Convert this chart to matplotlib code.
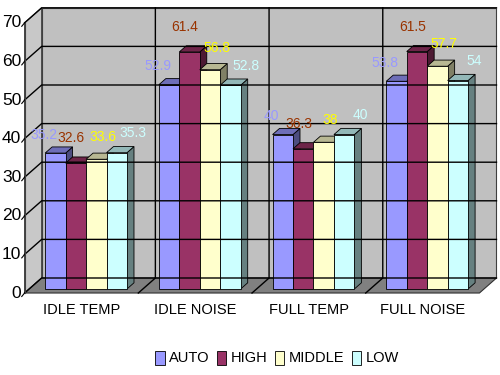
import matplotlib.pyplot as plt
from matplotlib.patches import Polygon, Patch
import numpy as np

plt.rcParams['font.family'] = ['Liberation Sans', 'DejaVu Sans']

# chart data
categories = ['IDLE TEMP', 'IDLE NOISE', 'FULL TEMP', 'FULL NOISE']
series = ['AUTO', 'HIGH', 'MIDDLE', 'LOW']
auto = [35.2, 52.9, 40, 53.8]
high = [32.6, 61.4, 36.3, 61.5]
middle = [33.6, 56.8, 38, 57.7]
low = [35.3, 52.8, 40, 54]
values = [auto, high, middle, low]
yticks = [0, 10, 20, 30, 40, 50, 60, 70]

colors = ['#9999ff', '#993366', '#ffffcc', '#ccffff']
label_colors = ['#9999ff', '#993300', '#ffff00', '#ccffff']
# label nudges per series (x in category units, y in value units)
lab_dx = [-0.10, -0.04, 0.06, 0.14]
lab_dy = [4.8, 6.5, 5.7, 5.0]

# fake 3D projection: depth d in [0, 1] moves up and right
FX, FY = -0.04, -1.04
DX, DY = 0.15, 3.89
BAR_D0, BAR_D1 = 0.27, 0.68
W = 0.18


def P(x, v, d):
    return (x + FX + d * DX, v + FY + d * DY)


def shade(c, f):
    rgb = np.array(plt.matplotlib.colors.to_rgb(c))
    return tuple(rgb * f)


fig = plt.figure(figsize=(5, 3.75), dpi=100)
ax = fig.add_axes([0, 0, 1, 1])
ax.set_xlim(-0.7564, 3.641)
ax.set_ylim(-22.28, 74.87)
ax.axis('off')

x0, x1 = -0.5, 3.5
vmax = yticks[-1]

# walls and floor
back = [P(x0, 0, 1), P(x1, 0, 1), P(x1, vmax, 1), P(x0, vmax, 1)]
left = [P(x0, 0, 0), P(x0, 0, 1), P(x0, vmax, 1), P(x0, vmax, 0)]
floor = [P(x0, 0, 0), P(x1, 0, 0), P(x1, 0, 1), P(x0, 0, 1)]
ax.add_patch(Polygon(back, closed=True, fc='#c0c0c0', ec='#404040', lw=0.8))
ax.add_patch(Polygon(left, closed=True, fc='#c8c8c8', ec='#404040', lw=0.8))
ax.add_patch(Polygon(floor, closed=True, fc='#808080', ec='#303030', lw=0.8))

for t in yticks:
    a, b, c = P(x0, t, 0), P(x0, t, 1), P(x1, t, 1)
    ax.plot([a[0], b[0], c[0]], [a[1], b[1], c[1]], color='black', lw=1)
    ax.plot([a[0] - 0.025, a[0]], [a[1] - 0.9, a[1]], color='black', lw=0.8)
    ax.text(a[0] - 0.03, a[1], str(t), ha='right', va='center', fontsize=12.5, color='black')

for xb in [0.5, 1.5, 2.5]:
    a, b, c = P(xb, 0, 0), P(xb, 0, 1), P(xb, vmax, 1)
    ax.plot([a[0], b[0], c[0]], [a[1], b[1], c[1]], color='black', lw=1)

# front axis line
a, b = P(x0, 0, 0), P(x0, vmax, 0)
ax.plot([a[0], b[0]], [a[1], b[1]], color='#404040', lw=0.8)

# bars
for g in range(len(categories)):
    for s in range(len(series)):
        v = values[s][g]
        xl = g - 2 * W + s * W
        xr = xl + W
        c = colors[s]
        side = [P(xr, 0, BAR_D0), P(xr, 0, BAR_D1), P(xr, v, BAR_D1), P(xr, v, BAR_D0)]
        top = [P(xl, v, BAR_D0), P(xr, v, BAR_D0), P(xr, v, BAR_D1), P(xl, v, BAR_D1)]
        front = [P(xl, 0, BAR_D0), P(xr, 0, BAR_D0), P(xr, v, BAR_D0), P(xl, v, BAR_D0)]
        ax.add_patch(Polygon(side, closed=True, fc=shade(c, 0.5), ec='black', lw=0.6))
        ax.add_patch(Polygon(top, closed=True, fc=shade(c, 0.72), ec='black', lw=0.6))
        ax.add_patch(Polygon(front, closed=True, fc=c, ec='black', lw=0.6))

# data labels
for g in range(len(categories)):
    for s in range(len(series)):
        v = values[s][g]
        xc = g - 1.5 * W + s * W
        ax.text(xc + lab_dx[s], v + lab_dy[s], f'{v:g}', ha='center', va='center',
                fontsize=10, color=label_colors[s], zorder=10)

# category labels
for g, name in enumerate(categories):
    px, py = P(g, 0, 0)
    ax.text(px, py - 4.4, name, ha='center', va='center', fontsize=10.5, color='black')

handles = [Patch(facecolor=c, edgecolor='black', lw=0.6) for c in colors]
fig.legend(handles, series, loc='center', bbox_to_anchor=(277 / 500, 1 - 358 / 375),
           ncol=4, frameon=False, fontsize=10.5, handlelength=0.65, handleheight=1.1,
           handletextpad=0.3, columnspacing=0.5)

fig.savefig('out.png', dpi=100, facecolor='white')
